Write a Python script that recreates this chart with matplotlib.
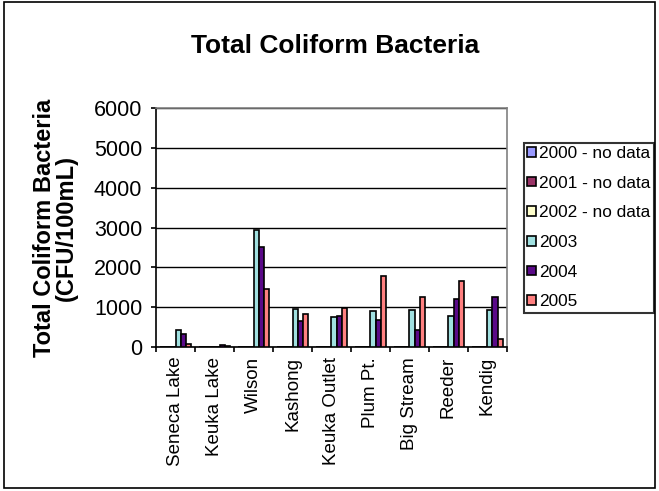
import numpy as np
import matplotlib
matplotlib.use('Agg')
from matplotlib import pyplot as plt
from matplotlib.patches import Rectangle

plt.rcParams['font.family'] = ['Liberation Sans', 'DejaVu Sans']

sites = ['Seneca Lake', 'Keuka Lake', 'Wilson', 'Kashong', 'Keuka Outlet',
         'Plum Pt.', 'Big Stream', 'Reeder', 'Kendig']
years = ['2000 - no data', '2001 - no data', '2002 - no data', '2003', '2004', '2005']
v2000 = [0, 0, 0, 0, 0, 0, 0, 0, 0]
v2001 = [0, 0, 0, 0, 0, 0, 0, 0, 0]
v2002 = [0, 0, 0, 0, 0, 0, 0, 0, 0]
v2003 = [420, 0, 2930, 950, 760, 900, 940, 790, 940]
v2004 = [340, 50, 2520, 650, 790, 690, 440, 1200, 1250]
v2005 = [80, 30, 1470, 840, 970, 1780, 1250, 1650, 200]
colors = ['#9999FF', '#993366', '#FFFFCC', '#A0E0E0', '#5A0A88', '#FF8080']

series = [v2000, v2001, v2002, v2003, v2004, v2005]

fig = plt.figure(figsize=(6.59, 4.91), dpi=100)
ax = fig.add_axes([0.237, 0.293, 0.532, 0.487])

x = np.arange(len(sites))
n = len(series)
w = 1.0 / (n + 1.5)
for i, (vals, col, lab) in enumerate(zip(series, colors, years)):
    ax.bar(x - n * w / 2 + (i + 0.5) * w, vals, width=w, color=col,
           edgecolor='black', linewidth=1.2, label=lab, zorder=3)

ax.set_ylim(0, 6000)
ax.set_xlim(-0.5, len(sites) - 0.5)
ax.set_yticks(np.arange(0, 6001, 1000))
ax.tick_params(axis='y', labelsize=15.5, direction='out', length=3.6, width=1.2, pad=6.5)
ax.yaxis.grid(True, color='black', linewidth=1.0, zorder=0)
ax.set_xticks(x)
ax.set_xticklabels(sites, rotation=90, fontsize=13.5)
ax.tick_params(axis='x', length=0, pad=7)
ax.set_xticks(np.arange(-0.5, len(sites)), minor=True)
ax.tick_params(axis='x', which='minor', direction='out', length=3.6, width=1.2)

for s in ['top', 'right']:
    ax.spines[s].set_color('#808080')
    ax.spines[s].set_linewidth(1.2)
for s in ['left', 'bottom']:
    ax.spines[s].set_color('black')
    ax.spines[s].set_linewidth(1.2)

ax.set_ylabel('Total Coliform Bacteria\n(CFU/100mL)', fontsize=17,
              fontweight='bold', linespacing=0.95)
ax.yaxis.set_label_coords(-0.222, 0.5)
fig.text(0.508, 0.907, 'Total Coliform Bacteria', ha='center', va='center',
         fontsize=19, fontweight='bold')

leg = ax.legend(loc='center left', bbox_to_anchor=(1.048, 0.5), fontsize=12.4,
                frameon=True, fancybox=False, edgecolor='black',
                handlelength=0.5, handleheight=0.5, handletextpad=0.2,
                labelspacing=0.85, borderpad=0.2, borderaxespad=0)
leg.get_frame().set_linewidth(1.5)

fig.patches.append(Rectangle((0.006, 0.006), 0.988, 0.99, transform=fig.transFigure,
                             fill=False, edgecolor='black', linewidth=1.2))

fig.savefig('out.png', dpi=100)
